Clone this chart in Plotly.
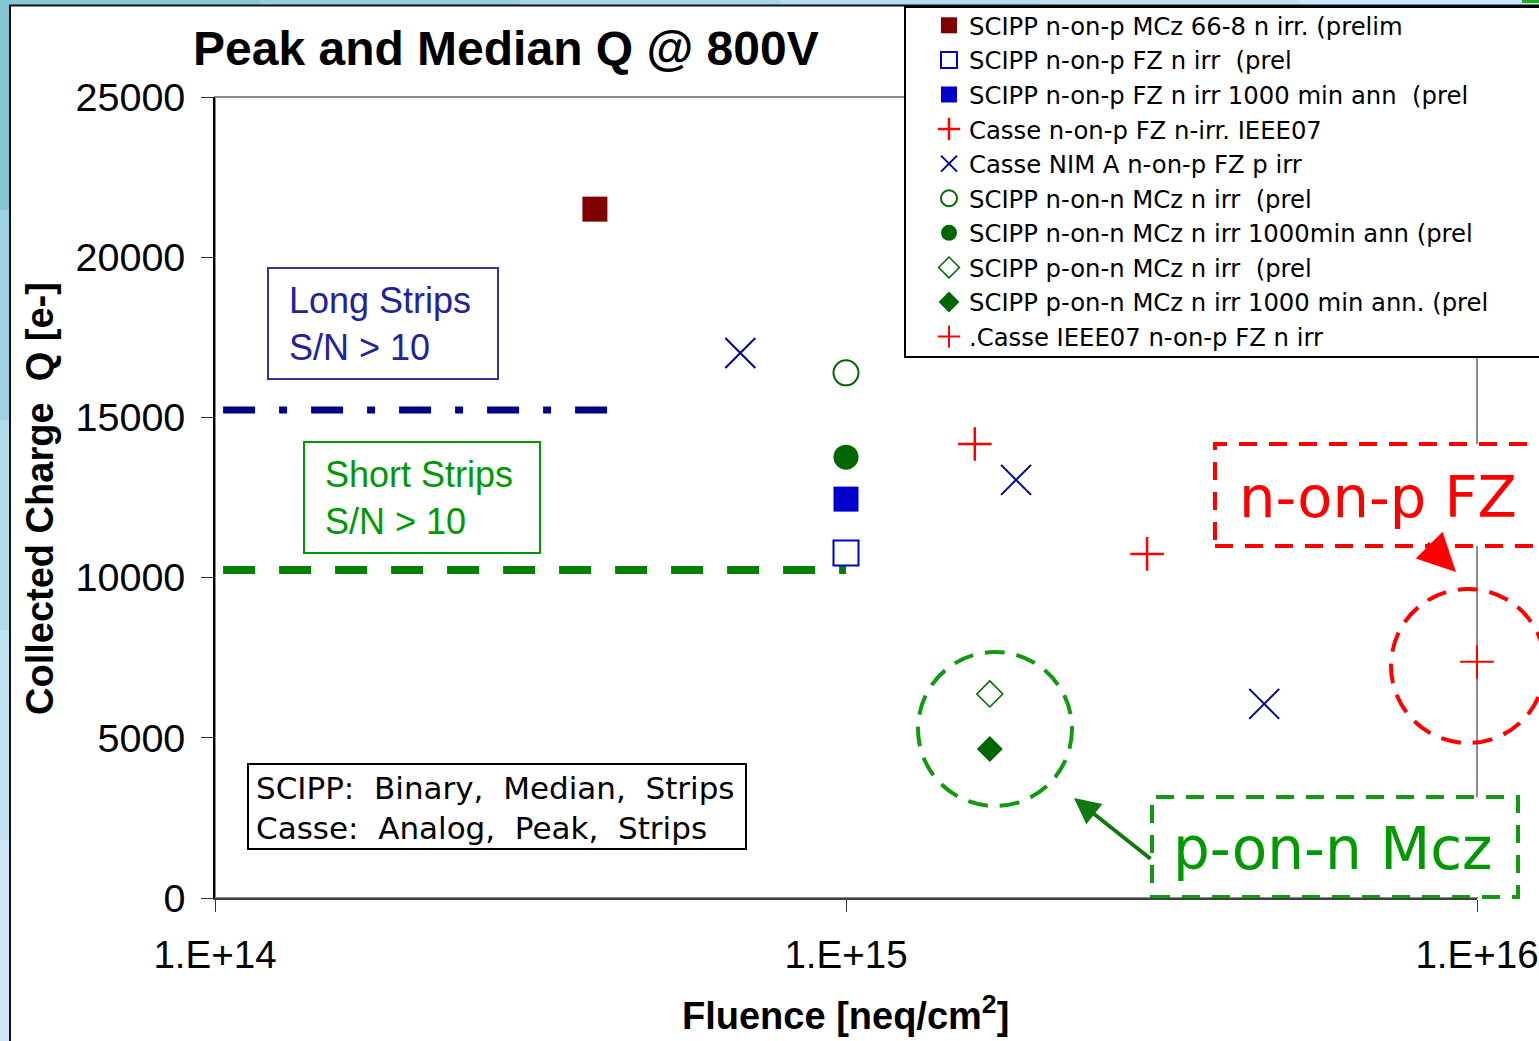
import plotly.graph_objects as go

# ---- data -------------------------------------------------------------
mcz_np_x = [4.0e14]
mcz_np_y = [21500]

fz_np_x = [1.0e15]
fz_np_y = [10770]

fz_np_ann_x = [1.0e15]
fz_np_ann_y = [12450]

casse_ieee_x = [1.6e15, 3.0e15]
casse_ieee_y = [14170, 10740]

casse_nim_x = [6.8e14, 1.86e15, 4.6e15]
casse_nim_y = [17010, 13050, 6060]

nn_mcz_x = [1.0e15]
nn_mcz_y = [16390]

nn_mcz_ann_x = [1.0e15]
nn_mcz_ann_y = [13760]

pn_mcz_x = [1.69e15]
pn_mcz_y = [6370]

pn_mcz_ann_x = [1.69e15]
pn_mcz_ann_y = [4650]

casse_ieee2_x = [1.0e16]
casse_ieee2_y = [7370]

long_strip_x = [1.03e14, 4.2e14]
long_strip_y = [15230, 15230]

short_strip_x = [1.03e14, 1.0e15]
short_strip_y = [10240, 10240]

x_tickvals = [1e14, 1e15, 1e16]
x_ticktext = ["1.E+14", "1.E+15", "1.E+16"]
y_tickvals = [0, 5000, 10000, 15000, 20000, 25000]
y_ticktext = ["0", "5000", "10000", "15000", "20000", "25000"]

# ---- figure geometry (pixels) ------------------------------------------
W, H = 1539, 1041
L, R, T, B = 215, 1477, 97, 898


def px(p):
    return (p - L) / (R - L)


def py(p):
    return (B - p) / (B - T)


ARIAL = "Liberation Sans, Arial, sans-serif"
VERD = "DejaVu Sans, Verdana, sans-serif"
NB = "\u00a0"

fig = go.Figure()

# threshold lines
fig.add_trace(go.Scatter(x=long_strip_x, y=long_strip_y, mode="lines",
                         line=dict(color="#000080", width=7, dash="32px,24px,8px,24px"),
                         showlegend=False, hoverinfo="skip"))
fig.add_trace(go.Scatter(x=short_strip_x, y=short_strip_y, mode="lines",
                         line=dict(color="#008000", width=8, dash="32px,24px"),
                         showlegend=False, hoverinfo="skip"))

series = [
    ("SCIPP n-on-p MCz 66-8 n irr. (prelim", mcz_np_x, mcz_np_y,
     dict(symbol="square", size=25, color="#800000")),
    (f"SCIPP n-on-p FZ n irr {NB}(prel", fz_np_x, fz_np_y,
     dict(symbol="square-open", size=25, color="#0000CC", line=dict(width=2))),
    (f"SCIPP n-on-p FZ n irr 1000 min ann {NB}(prel", fz_np_ann_x, fz_np_ann_y,
     dict(symbol="square", size=25, color="#0000CC")),
    ("Casse n-on-p FZ n-irr. IEEE07", casse_ieee_x, casse_ieee_y,
     dict(symbol="cross-thin", size=24, color="#FF0000", line=dict(width=2.5, color="#FF0000"))),
    ("Casse NIM A n-on-p FZ p irr", casse_nim_x, casse_nim_y,
     dict(symbol="x-thin", size=30, color="#000099", line=dict(width=2, color="#000099"))),
    (f"SCIPP n-on-n MCz n irr {NB}(prel", nn_mcz_x, nn_mcz_y,
     dict(symbol="circle-open", size=25, color="#006600", line=dict(width=2))),
    ("SCIPP n-on-n MCz n irr 1000min ann (prel", nn_mcz_ann_x, nn_mcz_ann_y,
     dict(symbol="circle", size=25, color="#006600")),
    (f"SCIPP p-on-n MCz n irr {NB}(prel", pn_mcz_x, pn_mcz_y,
     dict(symbol="diamond-open", size=20, color="#006600", line=dict(width=1.5))),
    ("SCIPP p-on-n MCz n irr 1000 min ann. (prel", pn_mcz_ann_x, pn_mcz_ann_y,
     dict(symbol="diamond", size=20, color="#006600")),
    (".Casse IEEE07 n-on-p FZ n irr", casse_ieee2_x, casse_ieee2_y,
     dict(symbol="cross-thin", size=24, color="#FF0000", line=dict(width=2, color="#FF0000"))),
]
for name, xs, ys, mk in series:
    fig.add_trace(go.Scatter(x=xs, y=ys, mode="markers", name=name, marker=mk,
                             cliponaxis=False))

shapes = []
# light-blue surround with a gradient strip along the top and left
top_cols = ["#86c6d6", "#95cddd", "#a5d6e5", "#b5ddec", "#c2e3f2", "#cce8fa"]
for i, c in enumerate(top_cols):
    shapes.append(dict(type="rect", xref="paper", yref="paper", layer="below",
                       x0=px(i * 260), x1=px((i + 1) * 260 + 2), y0=py(6), y1=py(-2),
                       fillcolor=c, line=dict(width=0)))
left_cols = ["#86c6d6", "#9dd2e2", "#b2dcec", "#c2e3f4", "#cce8fa"]
for i, c in enumerate(left_cols):
    shapes.append(dict(type="rect", xref="paper", yref="paper", layer="below",
                       x0=px(-2), x1=px(11), y0=py((i + 1) * 210 + 2), y1=py(i * 210),
                       fillcolor=c, line=dict(width=0)))
shapes.append(dict(type="rect", xref="paper", yref="paper", layer="below",
                   x0=px(1522), x1=px(1545), y0=py(3), y1=py(-3),
                   fillcolor="#22aa22", line=dict(width=0)))
# white panel with dark frame
shapes.append(dict(type="rect", xref="paper", yref="paper", layer="below",
                   x0=px(10), x1=px(1560), y0=py(1060), y1=py(5.5),
                   fillcolor="white", line=dict(color="#111111", width=2)))
# plot area border
shapes.append(dict(type="rect", xref="paper", yref="paper", layer="below",
                   x0=0, x1=1, y0=0, y1=1, fillcolor="white",
                   line=dict(color="#8c8c8c", width=2)))
# legend frame
shapes.append(dict(type="rect", xref="paper", yref="paper", layer="below",
                   x0=px(905), x1=px(1560), y0=py(357), y1=py(7),
                   fillcolor="white", line=dict(color="black", width=2)))
# text boxes
shapes.append(dict(type="rect", xref="paper", yref="paper", layer="below",
                   x0=px(268), x1=px(498), y0=py(379), y1=py(268),
                   fillcolor="white", line=dict(color="#333399", width=2)))
shapes.append(dict(type="rect", xref="paper", yref="paper", layer="below",
                   x0=px(304), x1=px(540), y0=py(553), y1=py(442),
                   fillcolor="white", line=dict(color="#009900", width=2)))
shapes.append(dict(type="rect", xref="paper", yref="paper", layer="below",
                   x0=px(248), x1=px(746), y0=py(849), y1=py(764),
                   fillcolor="white", line=dict(color="black", width=2)))
# highlight circles
shapes.append(dict(type="circle", xref="paper", yref="paper", layer="below",
                   x0=px(918), x1=px(1072), y0=py(806), y1=py(652),
                   line=dict(color="#119911", width=4, dash="20px,12px")))
shapes.append(dict(type="circle", xref="paper", yref="paper", layer="below",
                   x0=px(1391), x1=px(1545), y0=py(743), y1=py(589),
                   line=dict(color="#FF0000", width=4, dash="20px,12px")))
# dashed label boxes
shapes.append(dict(type="rect", xref="paper", yref="paper", layer="below",
                   x0=px(1215), x1=px(1560), y0=py(546), y1=py(444),
                   fillcolor="white", line=dict(color="#FF0000", width=4, dash="18px,12px")))
shapes.append(dict(type="rect", xref="paper", yref="paper", layer="below",
                   x0=px(1152), x1=px(1518), y0=py(897), y1=py(797),
                   fillcolor="white", line=dict(color="#119911", width=4, dash="18px,12px")))

annotations = [
    dict(text="<b>Peak and Median Q @ 800V</b>", x=px(506), y=py(48),
         font=dict(family=ARIAL, size=48, color="black")),
    dict(text="<b>Collected Charge  Q [e-]</b>", x=px(40), y=py(499), textangle=-90,
         font=dict(family=ARIAL, size=38, color="black")),
    dict(text="<b>Fluence [neq/cm<sup>2</sup>]</b>", x=px(845), y=py(1013),
         font=dict(family=ARIAL, size=38, color="black")),
    dict(text="Long Strips<br>S/N &gt; 10", x=px(287), y=py(324), xanchor="left", align="left",
         font=dict(family=ARIAL, size=36, color="#222299")),
    dict(text="Short Strips<br>S/N &gt; 10", x=px(323), y=py(498), xanchor="left", align="left",
         font=dict(family=ARIAL, size=36, color="#009900")),
    dict(text="SCIPP:  Binary,  Median,  Strips<br>Casse:  Analog,  Peak,  Strips",
         x=px(254), y=py(808), xanchor="left", align="left",
         font=dict(family=VERD, size=31, color="black")),
    dict(text="n-on-p FZ", x=px(1237), y=py(497), xanchor="left",
         font=dict(family=VERD, size=57.5, color="#FF0000")),
    dict(text="p-on-n Mcz", x=px(1171), y=py(849), xanchor="left",
         font=dict(family=VERD, size=58, color="#009900")),
]
for a in annotations:
    a.update(xref="paper", yref="paper", showarrow=False,
             xanchor=a.get("xanchor", "center"), yanchor="middle")

# arrows pointing at the highlighted groups
annotations.append(dict(text="", xref="paper", yref="paper", x=px(1074), y=py(798),
                        ax=78, ay=62, showarrow=True, arrowhead=2, arrowsize=1.3,
                        arrowwidth=4, arrowcolor="#107a10"))
annotations.append(dict(text="", xref="paper", yref="paper", x=px(1456), y=py(572),
                        ax=-30, ay=-30, showarrow=True, arrowhead=2, arrowsize=1.9,
                        arrowwidth=4, arrowcolor="#FF0000"))

fig.update_layout(
    width=W, height=H,
    margin=dict(l=L, r=W - R, t=T, b=H - B, autoexpand=False),
    paper_bgcolor="#cce8fa",
    plot_bgcolor="rgba(0,0,0,0)",
    shapes=shapes,
    annotations=annotations,
    showlegend=True,
    legend=dict(x=px(929), y=py(3), xanchor="left", yanchor="top",
                bgcolor="rgba(0,0,0,0)", borderwidth=0,
                font=dict(family=VERD, size=24.3, color="black"),
                itemclick=False, itemdoubleclick=False),
    xaxis=dict(type="log", range=[14, 16], tickvals=x_tickvals, ticktext=x_ticktext,
               showgrid=False, zeroline=False, showline=True, linecolor="#404040",
               linewidth=2, ticks="outside", ticklen=12, tickwidth=1, tickcolor="#333333",
               ticklabelstandoff=10,
               tickfont=dict(family=ARIAL, size=38.5, color="black")),
    yaxis=dict(range=[0, 25000], tickvals=y_tickvals, ticktext=y_ticktext,
               showgrid=False, zeroline=False,
               showline=True, linecolor="black", linewidth=1.5, ticks="outside",
               ticklen=12, tickwidth=1, tickcolor="#333333", ticklabelstandoff=8,
               tickfont=dict(family=ARIAL, size=39.5, color="black")),
)

fig.write_html("out.html")
